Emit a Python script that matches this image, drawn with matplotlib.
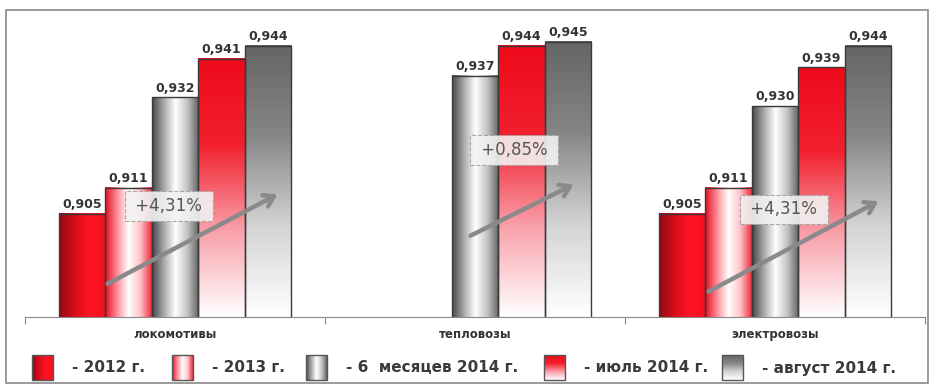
import numpy as np
import matplotlib
matplotlib.use("Agg")
import matplotlib.pyplot as plt
from matplotlib.colors import LinearSegmentedColormap
from matplotlib.patches import Rectangle

# data
categories = ["локомотивы", "тепловозы", "электровозы"]
series_names = ["2012 г.", "2013 г.", "6  месяцев 2014 г.", "июль 2014 г.", "август 2014 г."]
v2012 = [0.905, np.nan, 0.905]
v2013 = [0.911, np.nan, 0.911]
v6m = [0.932, 0.937, 0.930]
vjul = [0.941, 0.944, 0.939]
vaug = [0.944, 0.945, 0.944]
growth_labels = ["+4,31%", "+0,85%", "+4,31%"]
series_values = [v2012, v2013, v6m, vjul, vaug]

# gradient styles: (colors, direction)
styles = [
    (["#8e0a14", "#d80c1a", "#ff1424", "#f2101e"], "h"),
    (["#e20e1e", "#ff8a96", "#ffffff", "#ffc4ca", "#ee2a3a"], "h"),
    (["#464646", "#a8a8a8", "#ffffff", "#c4c4c4", "#626262"], "h"),
    (["#ee0a1a", "#f2202e", "#f9a0aa", "#ffffff"], "v"),
    (["#656565", "#868686", "#d4d4d4", "#ffffff"], "v"),
]
cmaps = [LinearSegmentedColormap.from_list(f"s{i}", c) for i, (c, _) in enumerate(styles)]

YMIN, YMAX = 0.881, 0.950
W, H = 934, 385
bar_w = 0.155


def gradient(ax, x0, x1, y0, y1, cmap, direction, z=1):
    n = 256
    g = np.linspace(0, 1, n)
    arr = g[None, :] if direction == "h" else g[:, None]
    ax.imshow(arr, extent=[x0, x1, y0, y1], aspect="auto", cmap=cmap,
              interpolation="bicubic", zorder=z, origin="upper")


fig = plt.figure(figsize=(W / 100, H / 100), dpi=100)
ax = fig.add_axes([25 / W, 1 - 317 / H, 900 / W, 297 / H])
ax.set_facecolor("none")

x = np.arange(len(categories))
for k, vals in enumerate(series_values):
    pos = x + (k - 2) * bar_w
    bars = ax.bar(pos, vals, bar_w, facecolor="none", edgecolor="#3a3a3a",
                  linewidth=1, zorder=2)
    for b in bars:
        h = b.get_height()
        if np.isnan(h):
            continue
        gradient(ax, b.get_x(), b.get_x() + b.get_width(), YMIN, h,
                 cmaps[k], styles[k][1])
    labels = ["" if np.isnan(v) else f"{v:.3f}".replace(".", ",") for v in vals]
    ax.bar_label(bars, labels=labels, padding=2, fontsize=9, fontweight="bold",
                 color="#333333")

# growth arrows and boxes
arrow_starts = [(-0.233, 0.8884), (0.977, 0.8996), (1.77, 0.8866)]
arrow_ends = [(0.35, 0.9098), (1.337, 0.9121), (2.353, 0.9082)]
box_pos = [(-0.02, 0.9068), (1.13, 0.9198), (2.03, 0.906)]
for s, e, bp, lab in zip(arrow_starts, arrow_ends, box_pos, growth_labels):
    ax.annotate("", xy=e, xytext=s, zorder=4,
                arrowprops=dict(arrowstyle="->,head_length=0.7,head_width=0.45",
                                lw=3.2, color="#8a8a8a"))
    ax.text(bp[0], bp[1], " " + lab + " ", ha="center", va="center", fontsize=12,
            color="#555555", zorder=5,
            bbox=dict(boxstyle="square,pad=0.35", fc="#f2f2f2", alpha=0.9,
                      ec="#a0a0a0", ls="--", lw=0.8))

ax.set_xlim(-0.5, 2.5)
ax.set_ylim(YMIN, YMAX)
for sp in ["top", "left", "right"]:
    ax.spines[sp].set_visible(False)
ax.spines["bottom"].set_color("#888888")
ax.set_yticks([])
ax.set_xticks([-0.5, 0.5, 1.5, 2.5])
ax.set_xticklabels([])
ax.tick_params(axis="x", which="major", length=5, color="#888888")
ax.set_xticks(x, categories, minor=True)
ax.tick_params(axis="x", which="minor", length=0, pad=8, labelsize=8.5,
               labelcolor="#333333")
for t in ax.get_xticklabels(minor=True):
    t.set_fontweight("bold")

# overlay in pixel coords: border and legend
ov = fig.add_axes([0, 0, 1, 1], zorder=-1)
ov.set_xlim(0, W)
ov.set_ylim(H, 0)
ov.axis("off")
ov.add_patch(Rectangle((6, 10), 922, 373, fill=False, ec="#8a8a8a", lw=1.2))

leg_x = [32, 172, 306, 544, 722]
for k, lx in enumerate(leg_x):
    gradient(ov, lx, lx + 21, 380, 355, cmaps[k], styles[k][1], z=2)
    ov.add_patch(Rectangle((lx, 355), 21, 25, fill=False, ec="#555555", lw=1, zorder=3))
    ov.text(lx + 40, 368, "- " + series_names[k], ha="left", va="center",
            fontsize=11, fontweight="bold", color="#3a3a3a")
ov.set_xlim(0, W)
ov.set_ylim(H, 0)

fig.savefig("out.png", dpi=100)
